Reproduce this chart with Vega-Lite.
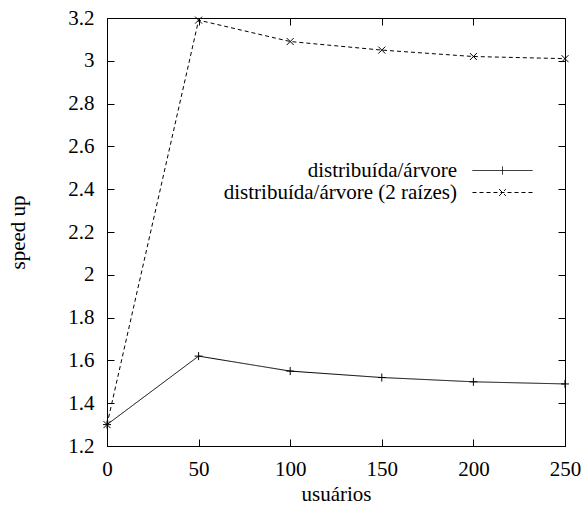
{
  "$schema": "https://vega.github.io/schema/vega-lite/v6.json",
  "width": 458,
  "height": 428,
  "autosize": {"type": "none"},
  "padding": {"left": 107, "top": 18, "right": 20, "bottom": 64},
  "background": "white",
  "config": {
    "font": "Liberation Serif, serif",
    "view": {"stroke": "black", "strokeWidth": 1},
    "legend": {"labelFont": "Liberation Serif, serif", "labelFontSize": 21},
    "axis": {
      "grid": false,
      "domainColor": "black",
      "tickColor": "black",
      "labelColor": "black",
      "titleColor": "black",
      "labelFontSize": 21,
      "titleFontSize": 21,
      "titleFontWeight": "normal",
      "labelFont": "Liberation Serif, serif",
      "titleFont": "Liberation Serif, serif",
      "labelFlush": false,
      "tickSize": -7
    }
  },
  "data": {
    "values": [
      {"users": 0, "speedup": 1.3, "series": "distribuída/árvore"},
      {"users": 50, "speedup": 1.62, "series": "distribuída/árvore"},
      {"users": 100, "speedup": 1.55, "series": "distribuída/árvore"},
      {"users": 150, "speedup": 1.52, "series": "distribuída/árvore"},
      {"users": 200, "speedup": 1.5, "series": "distribuída/árvore"},
      {"users": 250, "speedup": 1.49, "series": "distribuída/árvore"},
      {"users": 0, "speedup": 1.3, "series": "distribuída/árvore (2 raízes)"},
      {"users": 50, "speedup": 3.19, "series": "distribuída/árvore (2 raízes)"},
      {"users": 100, "speedup": 3.09, "series": "distribuída/árvore (2 raízes)"},
      {"users": 150, "speedup": 3.05, "series": "distribuída/árvore (2 raízes)"},
      {"users": 200, "speedup": 3.02, "series": "distribuída/árvore (2 raízes)"},
      {"users": 250, "speedup": 3.01, "series": "distribuída/árvore (2 raízes)"}
    ]
  },
  "layer": [
    {
      "mark": {"type": "line", "color": "black", "strokeWidth": 1},
      "encoding": {
        "x": {
          "field": "users", "type": "quantitative",
          "scale": {"domain": [0, 250], "nice": false, "zero": false},
          "axis": {"values": [0, 50, 100, 150, 200, 250], "title": "usuários", "labelPadding": 19, "titlePadding": 4, "labelFlush": false}
        },
        "y": {
          "field": "speedup", "type": "quantitative",
          "scale": {"domain": [1.2, 3.2], "nice": false, "zero": false},
          "axis": {"values": [1.2, 1.4, 1.6, 1.8, 2, 2.2, 2.4, 2.6, 2.8, 3, 3.2], "format": "~f", "title": "speed up", "labelPadding": 20, "titlePadding": 39, "labelFlush": false}
        },
        "strokeDash": {
          "field": "series", "type": "nominal",
          "scale": {"domain": ["distribuída/árvore", "distribuída/árvore (2 raízes)"], "range": [[1, 0], [4, 3]]},
          "legend": {
            "title": null,
            "orient": "none",
            "legendX": 385,
            "legendY": 142,
            "padding": 0,
            "labelFontSize": 21,
            "labelFont": "Liberation Serif, serif",
            "labelColor": "black",
            "labelAlign": "right",
            "labelOffset": -56,
            "labelLimit": 400,
            "symbolSize": 289,
            "symbolStrokeColor": "black",
            "symbolStrokeWidth": 1,
            "rowPadding": 0,
            "encode": {
              "symbols": {
                "update": {
                  "shape": {"signal": "datum.value === 'distribuída/árvore' ? 'M-3.53,0H3.53M0,-0.47V0.47' : 'M-3.53,0H3.53M-0.4,-0.4L0.4,0.4M-0.4,0.4L0.4,-0.4'"},
                  "stroke": {"value": "black"},
                  "fill": {"value": "transparent"}
                }
              }
            }
          }
        }
      }
    },
    {
      "transform": [{"filter": "datum.series === 'distribuída/árvore'"}],
      "mark": {"type": "point", "color": "black", "filled": false, "strokeWidth": 1, "opacity": 1, "shape": "M-1,0H1M0,-1V1", "size": 64},
      "encoding": {
        "x": {
          "field": "users", "type": "quantitative",
          "scale": {"domain": [0, 250], "nice": false, "zero": false},
          "axis": {"orient": "top", "values": [0, 50, 100, 150, 200, 250], "labels": false, "title": null, "domain": false}
        },
        "y": {
          "field": "speedup", "type": "quantitative",
          "scale": {"domain": [1.2, 3.2], "nice": false, "zero": false},
          "axis": {"orient": "right", "values": [1.2, 1.4, 1.6, 1.8, 2, 2.2, 2.4, 2.6, 2.8, 3, 3.2], "labels": false, "title": null, "domain": false}
        }
      }
    },
    {
      "transform": [{"filter": "datum.series === 'distribuída/árvore (2 raízes)'"}],
      "mark": {"type": "point", "color": "black", "filled": false, "strokeWidth": 1, "opacity": 1, "shape": "M-1,-1L1,1M-1,1L1,-1", "size": 49},
      "encoding": {
        "x": {
          "field": "users", "type": "quantitative",
          "scale": {"domain": [0, 250], "nice": false, "zero": false},
          "axis": null
        },
        "y": {
          "field": "speedup", "type": "quantitative",
          "scale": {"domain": [1.2, 3.2], "nice": false, "zero": false},
          "axis": null
        }
      }
    }
  ],
  "resolve": {"axis": {"x": "independent", "y": "independent"}}
}
